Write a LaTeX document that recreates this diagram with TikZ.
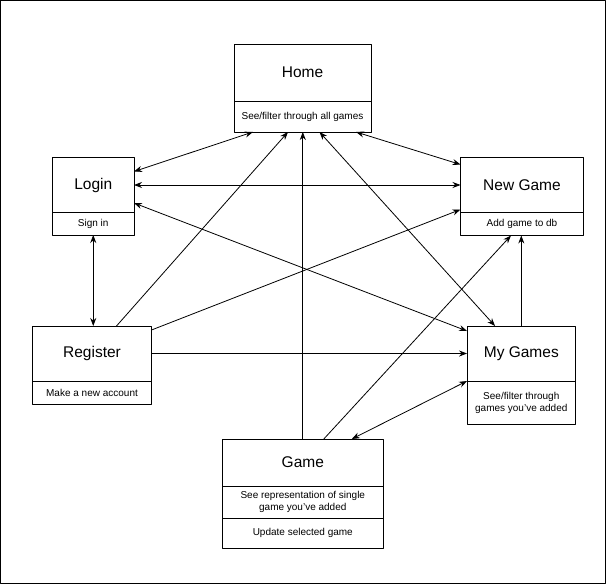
\documentclass[tikz,border=0pt]{standalone}
\usepackage{fontspec}
\setmainfont{Liberation Sans}
\usetikzlibrary{positioning,arrows.meta}
\tikzset{page/.style={draw,outer sep=0pt,inner sep=2pt,font=\fontsize{15.5}{18}\selectfont},
 info/.style={draw,outer sep=0pt,inner sep=2pt,align=center,font=\fontsize{10}{12}\selectfont}}
\begin{document}
\begin{tikzpicture}[x=1pt,y=-1pt,line width=0.8pt,line join=round,>={Stealth[length=8pt,width=6pt]}]
 \useasboundingbox (0,0) rectangle (606,584);
 \draw (0.5,0.5) rectangle (605.5,583.5);
 \node[page,minimum width=137pt,minimum height=57pt] (home) at (302.5,72.5) {Home};
 \node[info,minimum width=137pt,minimum height=31pt,below=0pt of home] (homeD) {See/filter through all games};
 \node[page,minimum width=81.5pt,minimum height=55pt] (login) at (93.25,185) {Login};
 \node[info,minimum width=81.5pt,minimum height=22.5pt,below=0pt of login] (loginD) {Sign in};
 \node[page,minimum width=123pt,minimum height=55pt] (newgame) at (522,185) {New Game};
 \node[info,minimum width=123pt,minimum height=23pt,below=0pt of newgame] (newgameD) {Add game to db};
 \node[page,minimum width=119pt,minimum height=55pt] (register) at (92,353.5) {Register};
 \node[info,minimum width=119pt,minimum height=23pt,below=0pt of register] (registerD) {Make a new account};
 \node[page,minimum width=108.5pt,minimum height=55pt] (mygames) at (521.3,353.5) {My Games};
 \node[info,minimum width=108.5pt,minimum height=43pt,below=0pt of mygames] (mygamesD) {See/filter through\\games you’ve added};
 \node[page,minimum width=161.5pt,minimum height=47pt] (game) at (302.8,462.5) {Game};
 \node[info,minimum width=161.5pt,minimum height=32.5pt,below=0pt of game] (gameD) {See representation of single\\game you’ve added};
 \node[info,minimum width=161.5pt,minimum height=29.5pt,below=0pt of gameD] (gameU) {Update selected game};
 \draw[<->] ([yshift=-14pt]login.north east) -- ([xshift=19pt]homeD.south west);
 \draw[<->] (login.east) -- (newgame.west);
 \draw[<->] ([yshift=9.5pt]login.south east) -- ([yshift=-5pt]mygames.north west);
 \draw[<->] (loginD.south) -- (loginD.south |- register.north);
 \draw[->] ([xshift=84pt]register.north west) -- ([xshift=54pt]homeD.south west);
 \draw[->] ([yshift=-4pt]register.north east) -- ([yshift=3pt]newgame.south west);
 \draw[->] (register.east) -- (mygames.west);
 \draw[->] (game.north) -- (game.north |- homeD.south);
 \draw[->] ([xshift=21pt]game.north) -- ([xshift=-11pt]newgameD.south);
 \draw[<->] ([xshift=49pt]game.north) -- (mygames.south west);
 \draw[->] (mygames.north) -- (mygames.north |- newgameD.south);
 \draw[<->] ([xshift=17pt]homeD.south) -- ([xshift=28pt]mygames.north west);
 \draw[<->] ([xshift=-15pt]homeD.south east) -- ([yshift=-7pt]newgame.north west);
\end{tikzpicture}
\end{document}
